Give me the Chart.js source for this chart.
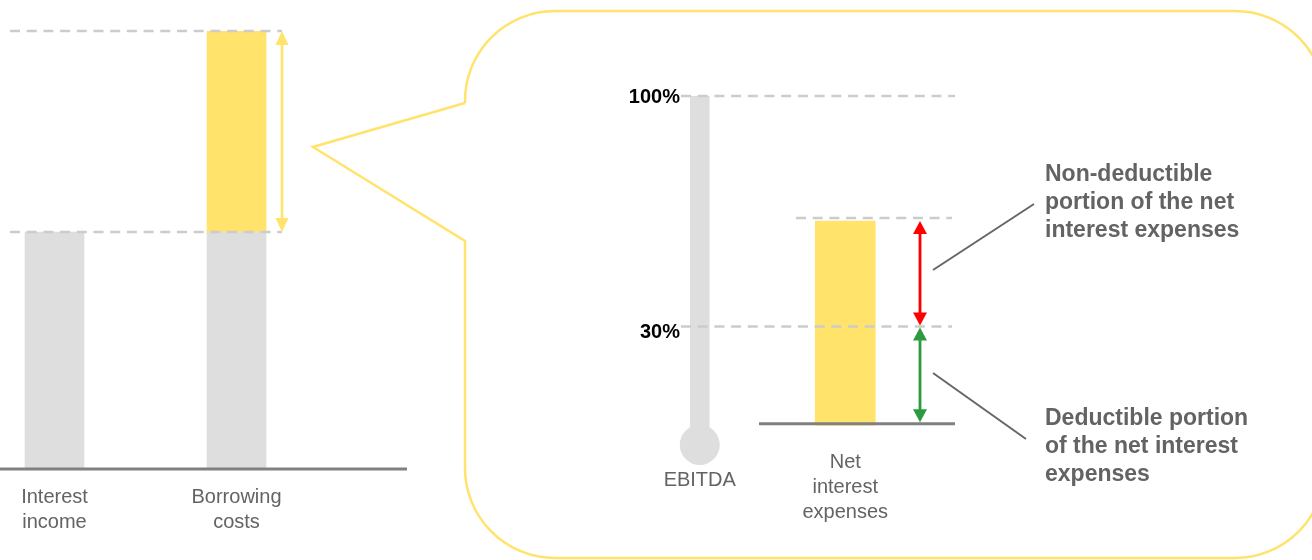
<!DOCTYPE html>
<html><head><meta charset="utf-8">
<script src="https://cdn.jsdelivr.net/npm/chart.js@4.4.0/dist/chart.umd.min.js"></script>
<style>
html,body{margin:0;padding:0;background:#fff;width:1312px;height:560px;overflow:hidden;}
#wrap{position:relative;width:1312px;height:560px;}
#c2{position:absolute;left:0;top:0;}
#c1{position:absolute;left:-40px;top:0;}
</style></head><body>
<div id="wrap">
<canvas id="c2" width="1312" height="560"></canvas>
<canvas id="c1" width="480" height="560"></canvas>
</div>
<script>
// ---- data ----
const leftCategories = [["Interest","income"],["Borrowing","costs"]];
const leftGrayValues = [54, 54];
const leftYellowValues = [null, 46];
const rightCategories = ["EBITDA", ["Net","interest","expenses"]];
const ebitdaValues = [100, null];
const ebitdaBulbValues = [-6, null];
const netInterestValues = [null, 62];
const thresholdPct = 30;
const pctTickLabels = ["100%", "30%"];
const noteNonDeductible = ["Non-deductible","portion of the net","interest expenses"];
const noteDeductible = ["Deductible portion","of the net interest","expenses"];

// ---- styles ----
const FONT = "'Liberation Sans', Arial, sans-serif";
const YEL = '#FFE36B', GRAY = '#DEDEDE', DASH = '#CCCCCC', AXIS = '#808080', TXT = '#636363';
const RED = '#FF0000', GREEN = '#2E9A3E';
const LEFT_CANVAS_X = -40;

function dashLine(c, x1, x2, y){
  c.save(); c.strokeStyle = DASH; c.lineWidth = 2.5; c.setLineDash([10,6.7]);
  c.beginPath(); c.moveTo(x1, y); c.lineTo(x2, y); c.stroke(); c.restore();
}
function solidLine(c, x1, y1, x2, y2, col, lw){
  c.save(); c.strokeStyle = col; c.lineWidth = lw; c.setLineDash([]);
  c.beginPath(); c.moveTo(x1, y1); c.lineTo(x2, y2); c.stroke(); c.restore();
}
function vArrow(c, x, y1, y2, col, hw, hl, lw){
  c.save(); c.strokeStyle = col; c.fillStyle = col; c.lineWidth = lw;
  c.beginPath(); c.moveTo(x, y1 + hl - 1); c.lineTo(x, y2 - hl + 1); c.stroke();
  c.beginPath(); c.moveTo(x, y1); c.lineTo(x - hw/2, y1 + hl); c.lineTo(x + hw/2, y1 + hl); c.closePath(); c.fill();
  c.beginPath(); c.moveTo(x, y2); c.lineTo(x - hw/2, y2 - hl); c.lineTo(x + hw/2, y2 - hl); c.closePath(); c.fill();
  c.restore();
}

const leftDeco = {
  id: 'leftDeco',
  afterDatasetsDraw(chart){
    const c = chart.ctx, y = chart.scales.y;
    const yTop = y.getPixelForValue(leftGrayValues[1] + leftYellowValues[1]);
    const yMid = y.getPixelForValue(leftGrayValues[1]);
    const yBase = y.getPixelForValue(0);
    c.save(); c.translate(-LEFT_CANVAS_X, 0);
    dashLine(c, 10, 282, yTop);
    dashLine(c, 10, 282, yMid);
    solidLine(c, 0, yBase + 1, 407, yBase + 1, AXIS, 3);
    vArrow(c, 282, yTop, yMid, YEL, 13, 14, 2.6);
    c.restore();
  }
};

new Chart(document.getElementById('c1'), {
  type: 'bar',
  data: { labels: leftCategories, datasets: [
    { data: leftGrayValues, backgroundColor: GRAY, barThickness: 59 },
    { data: leftYellowValues, backgroundColor: YEL, barThickness: 59 }
  ]},
  options: {
    responsive: false, devicePixelRatio: 1, animation: false, events: [],
    layout: { padding: { left: 3.5, right: 112.5, top: 31, bottom: 0 } },
    plugins: { legend: { display: false }, tooltip: { enabled: false } },
    scales: {
      x: { stacked: true, grid: { display: false, drawTicks: false }, border: { display: false },
           ticks: { color: TXT, font: { family: FONT, size: 20, lineHeight: 1.25 }, padding: 16.5, maxRotation: 0, autoSkip: false },
           afterFit(s){ s.height = 92; } },
      y: { stacked: true, display: false, min: 0, max: 100 }
    }
  },
  plugins: [leftDeco]
});

const rightDeco = {
  id: 'rightDeco',
  beforeDatasetsDraw(chart){
    const c = chart.ctx;
    c.save(); c.strokeStyle = YEL; c.lineWidth = 2.5; c.lineJoin = 'miter';
    c.beginPath();
    c.moveTo(465, 103); c.lineTo(313, 147); c.lineTo(465, 241);
    c.arcTo(465, 558, 555, 558, 90);
    c.arcTo(1325, 558, 1325, 468, 90);
    c.arcTo(1325, 11, 1235, 11, 90);
    c.arcTo(465, 11, 465, 101, 90);
    c.lineTo(465, 103);
    c.stroke(); c.restore();
  },
  afterDatasetsDraw(chart){
    const c = chart.ctx, y = chart.scales.y;
    const y100 = y.getPixelForValue(ebitdaValues[0]);
    const y30 = y.getPixelForValue(thresholdPct);
    const yNet = y.getPixelForValue(netInterestValues[1]);
    const y0 = y.getPixelForValue(0);
    dashLine(c, 681, 955, y100);
    dashLine(c, 681, 952, y30);
    dashLine(c, 796, 952, yNet - 3);
    solidLine(c, 759, y0 - 1.5, 955, y0 - 1.5, AXIS, 3);
    vArrow(c, 920, yNet, y30 - 1, RED, 14, 13, 2.8);
    vArrow(c, 920, y30 + 1, y0 - 3, GREEN, 14, 13, 2.8);
    solidLine(c, 933, 270, 1034, 204, '#666666', 2);
    solidLine(c, 933, 373, 1026, 439, '#666666', 2);
    c.save();
    c.fillStyle = '#000'; c.font = 'bold 20px ' + FONT; c.textAlign = 'right'; c.textBaseline = 'middle';
    c.fillText(pctTickLabels[0], 680, y100 + 1);
    c.fillText(pctTickLabels[1], 680, y30 + 6);
    c.fillStyle = TXT; c.font = 'bold 23px ' + FONT; c.textAlign = 'left';
    noteNonDeductible.forEach((t, i) => c.fillText(t, 1045, 175 + 28 * i));
    noteDeductible.forEach((t, i) => c.fillText(t, 1045, 419 + 28 * i));
    c.restore();
  }
};

new Chart(document.getElementById('c2'), {
  type: 'bar',
  data: { labels: rightCategories, datasets: [
    { type: 'line', data: ebitdaBulbValues, showLine: false, pointRadius: 20, pointHoverRadius: 20,
      pointBackgroundColor: GRAY, pointBorderWidth: 0, borderWidth: 0, clip: false },
    { type: 'bar', data: ebitdaValues, base: ebitdaBulbValues[0], backgroundColor: GRAY, barThickness: 19, grouped: false },
    { type: 'bar', data: netInterestValues, backgroundColor: YEL, barThickness: 60, grouped: false }
  ]},
  options: {
    responsive: false, devicePixelRatio: 1, animation: false, events: [],
    layout: { padding: { left: 627, right: 394, top: 96, bottom: 0 } },
    plugins: { legend: { display: false }, tooltip: { enabled: false } },
    scales: {
      x: { grid: { display: false, drawTicks: false }, border: { display: false },
           ticks: { color: TXT, padding: 9.5, maxRotation: 0, autoSkip: false,
                    font: (ctx) => ({ family: FONT, size: 20, lineHeight: ctx.index === 0 ? 3.05 : 1.25 }) },
           afterFit(s){ s.height = 120; } },
      y: { display: false, min: -4.5, max: 100 }
    }
  },
  plugins: [rightDeco]
});
</script>
</body></html>
